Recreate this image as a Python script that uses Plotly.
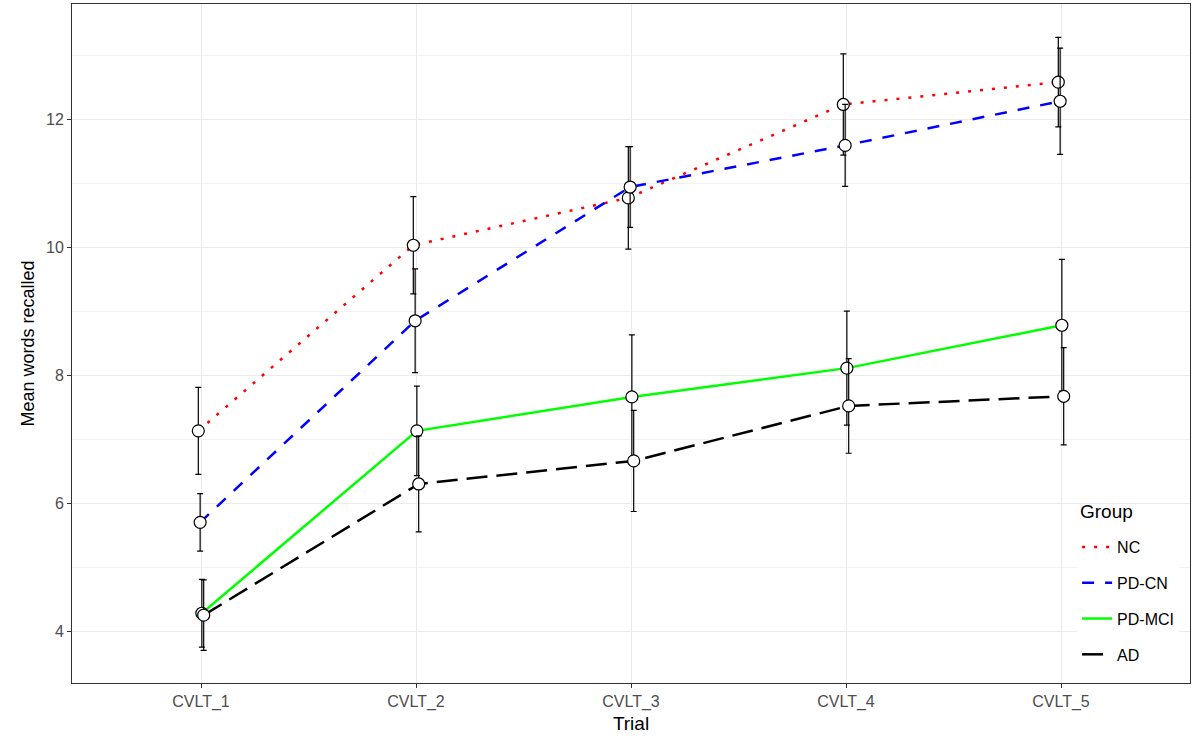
import plotly.graph_objects as go

# Mean words recalled per CVLT trial, by diagnostic group (mean ± error)
trials = ["CVLT_1", "CVLT_2", "CVLT_3", "CVLT_4", "CVLT_5"]
groups = ["NC", "PD-CN", "PD-MCI", "AD"]

nc_mean = [7.13, 10.03, 10.77, 12.23, 12.58]
nc_err = [0.68, 0.76, 0.80, 0.79, 0.70]

pdcn_mean = [5.70, 8.85, 10.94, 11.59, 12.28]
pdcn_err = [0.45, 0.81, 0.63, 0.64, 0.83]

pdmci_mean = [4.28, 7.13, 7.66, 8.11, 8.78]
pdmci_err = [0.53, 0.70, 0.97, 0.89, 1.03]

ad_mean = [4.25, 6.30, 6.66, 7.52, 7.67]
ad_err = [0.55, 0.75, 0.79, 0.74, 0.76]

means = [nc_mean, pdcn_mean, pdmci_mean, ad_mean]
errors = [nc_err, pdcn_err, pdmci_err, ad_err]
colors = ["#FF0000", "#0000FF", "#00FF00", "#000000"]
dashes = ["3px,9px", "12px,11px", "solid", "21px,9px"]
dodge = [-0.0125, -0.004, 0.004, 0.0125]

fig = go.Figure()

# connecting lines (these carry the legend keys)
for g, m, c, d, off in zip(groups, means, colors, dashes, dodge):
    xs = [i + 1 + off for i in range(len(trials))]
    fig.add_trace(go.Scatter(
        x=xs, y=m, mode="lines", name=g, legendgroup=g,
        line=dict(color=c, width=2.5, dash=d),
    ))

# error bars and open points on top
for g, m, e, off in zip(groups, means, errors, dodge):
    xs = [i + 1 + off for i in range(len(trials))]
    fig.add_trace(go.Scatter(
        x=xs, y=m, mode="markers", name=g, legendgroup=g, showlegend=False,
        marker=dict(symbol="circle", size=12, color="white",
                    line=dict(color="black", width=1.2)),
        error_y=dict(type="data", array=e, symmetric=True,
                     color="black", thickness=1.2, width=3),
    ))

font_family = "Liberation Sans, Arial, sans-serif"

# white legend panel over the gridlines, with the legend title above the keys
fig.add_shape(type="rect", xref="paper", yref="paper",
              x0=0.888, x1=1.0, y0=0.0, y1=0.281,
              fillcolor="white", line=dict(width=0), layer="between")
fig.add_annotation(text="Group", xref="paper", yref="paper",
                   x=0.9, y=0.2533, xanchor="left", yanchor="middle",
                   showarrow=False, font=dict(size=19, color="black"))

fig.update_layout(
    width=1193, height=749,
    margin=dict(l=72, r=3, t=4, b=66),
    paper_bgcolor="white", plot_bgcolor="white",
    font=dict(family=font_family, color="black"),
    showlegend=True,
    legend=dict(
        font=dict(size=16, color="black"),
        x=0.899, xanchor="left", y=0.2253, yanchor="top",
        bgcolor="white", borderwidth=0,
        itemwidth=30, tracegroupgap=12,
    ),
    xaxis=dict(
        range=[0.4, 5.6],
        tickmode="array", tickvals=[1, 2, 3, 4, 5], ticktext=trials,
        tickfont=dict(size=16, color="#4D4D4D"),
        ticks="outside", ticklen=4, tickcolor="#333333",
        showgrid=True, gridcolor="#EBEBEB", gridwidth=1,
        showline=True, linecolor="#333333", linewidth=1, mirror=True,
        zeroline=False,
        title=dict(text="Trial", font=dict(size=19, color="black"), standoff=6),
    ),
    yaxis=dict(
        range=[3.19, 13.8],
        tickmode="array", tickvals=[4, 6, 8, 10, 12],
        tickfont=dict(size=16, color="#4D4D4D"),
        ticks="outside", ticklen=4, tickcolor="#333333",
        showgrid=True, gridcolor="#EBEBEB", gridwidth=1,
        minor=dict(tickmode="array", tickvals=[5, 7, 9, 11, 13],
                   showgrid=True, gridcolor="#F2F2F2", gridwidth=1, ticks=""),
        showline=True, linecolor="#333333", linewidth=1, mirror=True,
        zeroline=False,
        title=dict(text="Mean words recalled", font=dict(size=18, color="black"),
                   standoff=6),
    ),
)

fig.write_html("out.html")
